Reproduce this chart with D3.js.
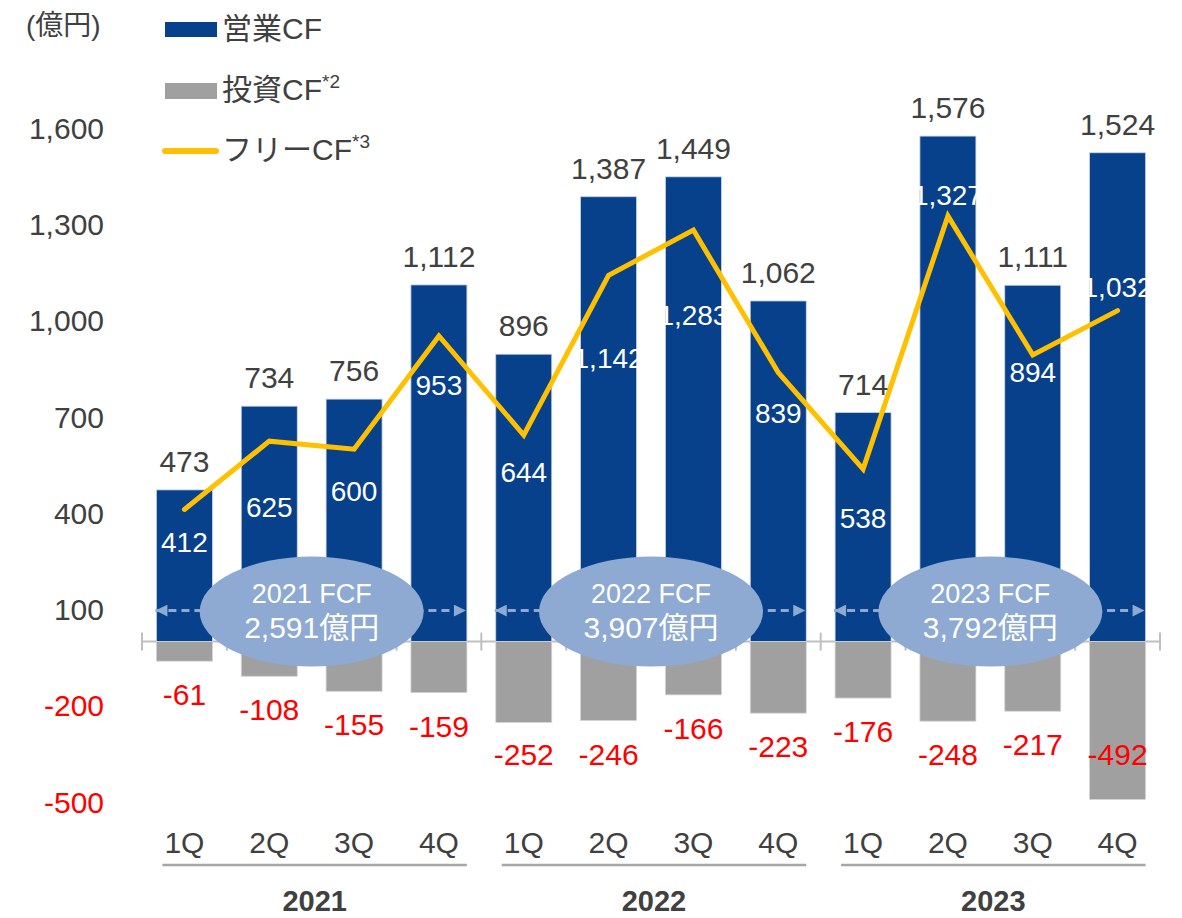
<!DOCTYPE html>
<html>
<head>
<meta charset="utf-8">
<script src="https://cdn.jsdelivr.net/npm/d3@7"></script>
<style>
  html, body { margin: 0; padding: 0; background: #fff; }
  svg { display: block; font-family: "Liberation Sans", Arial, "Noto Sans CJK JP", sans-serif; }
</style>
</head>
<body>
<svg id="chart"></svg>
<script>
const quarters = ["1Q", "2Q", "3Q", "4Q", "1Q", "2Q", "3Q", "4Q", "1Q", "2Q", "3Q", "4Q"];
const years = ["2021", "2022", "2023"];
const operatingCF = [473, 734, 756, 1112, 896, 1387, 1449, 1062, 714, 1576, 1111, 1524];
const investingCF = [-61, -108, -155, -159, -252, -246, -166, -223, -176, -248, -217, -492];
const freeCF = [412, 625, 600, 953, 644, 1142, 1283, 839, 538, 1327, 894, 1032];
const yearFCF = ["2,591", "3,907", "3,792"];
const yTicks = [-500, -200, 100, 400, 700, 1000, 1300, 1600];

// label nudges (px) for the free CF numbers, as placed in the original
const fcfLabelDy = [33, 66, 42, 49, 37, 83, 85, 41, 49, -21, 17, -23];

const width = 1182;
const height = 918;

const BLUE = "#07418b";
const GRAY = "#a0a0a0";
const GOLD = "#ffc000";
const PALE = "#8eaad2";
const TEXT = "#404040";
const RED = "#ff0000";
const AXIS = "#bfbfbf";

// plain hyphen for negatives, like the original
const fmt = d3.formatLocale({ decimal: ".", thousands: ",", grouping: [3], currency: ["", ""], minus: "-" }).format(",");

const svg = d3.select("#chart")
    .attr("width", width)
    .attr("height", height);

const x = d3.scaleBand()
    .domain(d3.range(quarters.length))
    .range([142, 1160])
    .paddingInner(0.34)
    .paddingOuter(0.17);

const y = d3.scaleLinear()
    .domain([-500, 1600])
    .range([802, 128.4]);

const bw = x.bandwidth();
const cx = i => x(i) + bw / 2;
const y0 = y(0);

// y tick labels
svg.append("g")
    .selectAll("text")
    .data(yTicks)
    .join("text")
    .attr("x", 104)
    .attr("y", d => y(d))
    .attr("dy", "0.35em")
    .attr("text-anchor", "end")
    .attr("font-size", "30px")
    .attr("fill", d => d < 0 ? RED : TEXT)
    .text(d => fmt(d));

svg.append("text")
    .attr("x", 26)
    .attr("y", 35)
    .attr("font-size", "28px")
    .attr("fill", TEXT)
    .text("(億円)");

// category axis with ticks at every band edge
svg.append("line")
    .attr("x1", x.range()[0])
    .attr("x2", x.range()[1])
    .attr("y1", y0)
    .attr("y2", y0)
    .attr("stroke", AXIS)
    .attr("stroke-width", 2);

svg.append("g")
    .selectAll("line")
    .data(d3.range(quarters.length + 1))
    .join("line")
    .attr("x1", i => x.range()[0] + i * x.step())
    .attr("x2", i => x.range()[0] + i * x.step())
    .attr("y1", y0 - 9)
    .attr("y2", y0 + 9)
    .attr("stroke", AXIS)
    .attr("stroke-width", 2);

// bars
svg.append("g")
    .selectAll("rect")
    .data(operatingCF)
    .join("rect")
    .attr("x", (d, i) => x(i))
    .attr("y", d => y(d))
    .attr("width", bw)
    .attr("height", d => y0 - y(d))
    .attr("fill", BLUE)
    .attr("stroke", "#c9d3e2")
    .attr("stroke-width", 0.8);

svg.append("g")
    .selectAll("rect")
    .data(investingCF)
    .join("rect")
    .attr("x", (d, i) => x(i))
    .attr("y", y0)
    .attr("width", bw)
    .attr("height", d => y(d) - y0)
    .attr("fill", GRAY)
    .attr("stroke", "#d4d4d4")
    .attr("stroke-width", 0.8);

// yearly FCF callouts: dashed double arrow + ellipse
const defs = svg.append("defs");
["arrowEnd", "arrowStart"].forEach((id, k) => {
    defs.append("marker")
        .attr("id", id)
        .attr("viewBox", "0 0 10 10")
        .attr("refX", k === 0 ? 10 : 0)
        .attr("refY", 5)
        .attr("markerWidth", 4.4)
        .attr("markerHeight", 4)
        .attr("markerUnits", "strokeWidth")
        .attr("orient", "auto")
        .append("path")
        .attr("d", k === 0 ? "M0,0 L10,5 L0,10 Z" : "M10,0 L0,5 L10,10 Z")
        .attr("fill", PALE);
});

const arrowY = y0 - 31;
years.forEach((yr, g) => {
    const first = g * 4;
    const last = g * 4 + 3;
    svg.append("line")
        .attr("x1", x(first) - 1)
        .attr("x2", x(last) + bw - 1)
        .attr("y1", arrowY)
        .attr("y2", arrowY)
        .attr("stroke", PALE)
        .attr("stroke-width", 3)
        .attr("stroke-dasharray", "8,5")
        .attr("marker-start", "url(#arrowStart)")
        .attr("marker-end", "url(#arrowEnd)");

    const ex = (cx(first + 1) + cx(first + 2)) / 2;
    svg.append("ellipse")
        .attr("cx", ex)
        .attr("cy", y0 - 30)
        .attr("rx", 112)
        .attr("ry", 55)
        .attr("fill", PALE);

    svg.append("text")
        .attr("x", ex)
        .attr("y", y0 - 39)
        .attr("text-anchor", "middle")
        .attr("font-size", "27px")
        .attr("fill", "#fff")
        .text(`${yr} FCF`);

    svg.append("text")
        .attr("x", ex)
        .attr("y", y0 - 4)
        .attr("text-anchor", "middle")
        .attr("font-size", "30px")
        .attr("fill", "#fff")
        .text(`${yearFCF[g]}億円`);

    // year underline + label
    svg.append("line")
        .attr("x1", x(first) + 6)
        .attr("x2", x(last) + bw)
        .attr("y1", 865)
        .attr("y2", 865)
        .attr("stroke", "#a6a6a6")
        .attr("stroke-width", 2.5);

    svg.append("text")
        .attr("x", (x(first) + 6 + x(last) + bw) / 2)
        .attr("y", 911)
        .attr("text-anchor", "middle")
        .attr("font-size", "29px")
        .attr("font-weight", "bold")
        .attr("fill", TEXT)
        .text(yr);
});

// free CF line
const line = d3.line()
    .x((d, i) => cx(i))
    .y(d => y(d));

svg.append("path")
    .attr("d", line(freeCF))
    .attr("fill", "none")
    .attr("stroke", GOLD)
    .attr("stroke-width", 5)
    .attr("stroke-linejoin", "miter")
    .attr("stroke-linecap", "round");

// labels
svg.append("g")
    .selectAll("text")
    .data(operatingCF)
    .join("text")
    .attr("x", (d, i) => cx(i))
    .attr("y", d => y(d) - 18)
    .attr("text-anchor", "middle")
    .attr("font-size", "30px")
    .attr("fill", TEXT)
    .text(d => fmt(d));

svg.append("g")
    .selectAll("text")
    .data(investingCF)
    .join("text")
    .attr("x", (d, i) => cx(i))
    .attr("y", d => Math.min(y(d) + 44, y(-385)))
    .attr("text-anchor", "middle")
    .attr("font-size", "30px")
    .attr("fill", RED)
    .text(d => fmt(d));

svg.append("g")
    .selectAll("text")
    .data(freeCF)
    .join("text")
    .attr("x", (d, i) => cx(i))
    .attr("y", (d, i) => y(d) + fcfLabelDy[i])
    .attr("dy", "0.35em")
    .attr("text-anchor", "middle")
    .attr("font-size", "28px")
    .attr("fill", "#fff")
    .text(d => fmt(d));

// quarter labels
svg.append("g")
    .selectAll("text")
    .data(quarters)
    .join("text")
    .attr("x", (d, i) => cx(i))
    .attr("y", 853)
    .attr("text-anchor", "middle")
    .attr("font-size", "30px")
    .attr("fill", TEXT)
    .text(d => d);

// legend
const legend = svg.append("g");
legend.append("rect")
    .attr("x", 165).attr("y", 22).attr("width", 52).attr("height", 15)
    .attr("fill", BLUE);
legend.append("rect")
    .attr("x", 165).attr("y", 83).attr("width", 52).attr("height", 16)
    .attr("fill", GRAY);
legend.append("line")
    .attr("x1", 165).attr("x2", 216).attr("y1", 151).attr("y2", 151)
    .attr("stroke", GOLD).attr("stroke-width", 6).attr("stroke-linecap", "round");

const legendItems = [
    { label: "営業CF", note: "", y: 39 },
    { label: "投資CF", note: "*2", y: 100 },
    { label: "フリーCF", note: "*3", y: 160 }
];
legendItems.forEach(d => {
    const t = legend.append("text")
        .attr("x", 222)
        .attr("y", d.y)
        .attr("font-size", "30px")
        .attr("fill", TEXT);
    t.append("tspan").text(d.label);
    if (d.note) {
        t.append("tspan")
            .attr("dy", -12)
            .attr("font-size", "19px")
            .text(d.note);
    }
});
</script>
</body>
</html>
